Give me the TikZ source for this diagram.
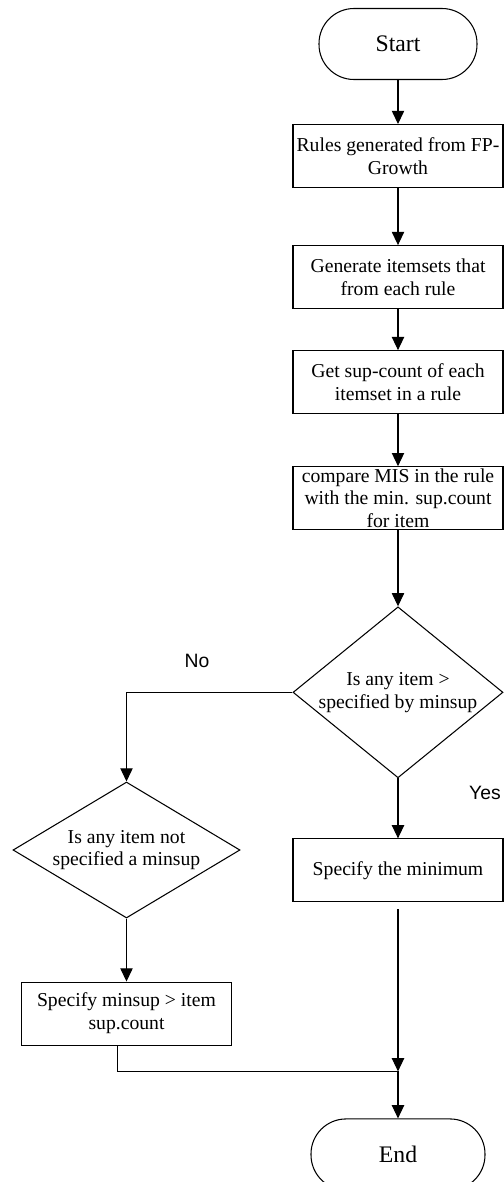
\documentclass[tikz,border=0pt]{standalone}
\usepackage{fontspec}
\setmainfont{Liberation Serif}
\setsansfont{Liberation Sans}
\usetikzlibrary{shapes.geometric, arrows.meta, positioning}

\begin{document}
\begin{tikzpicture}[
  node distance=1.0cm,
  box/.style={draw, minimum height=1.26cm, minimum width=4.2cm, align=center,
              inner sep=1pt, font=\fontsize{11.2}{13}\selectfont},
  term/.style={draw, rounded corners=0.7cm, minimum width=3.16cm,
               minimum height=1.42cm, font=\fontsize{13.5}{16}\selectfont},
  decision/.style={draw, diamond, inner sep=0pt},
  dectext/.style={align=center, font=\fontsize{11.2}{13}\selectfont},
  lbl/.style={font=\sffamily\fontsize{11}{13}\selectfont},
  arr/.style={-{Triangle[width=7pt,length=7.5pt]}},
  line width=0.6pt
]
  \useasboundingbox (0,0) rectangle (10.06,-23.64);

  % Main column
  \node[term] (start) at (7.96,-0.88) {Start};
  \node[box, below=0.88cm of start] (rules) {Rules generated from FP-\\Growth};
  \node[box, below=1.14cm of rules] (gen) {Generate itemsets that\\from each rule};
  \node[box, below=0.82cm of gen] (supcnt) {Get sup-count of each\\itemset in a rule};
  \node[box, below=1.04cm of supcnt] (compare) {compare MIS in the rule\\with the min. sup.count\\for item};

  % Decisions
  \node[decision, minimum width=4.2cm, minimum height=3.42cm, below=1.52cm of compare,
        label={[dectext]center:Is any item >\\specified by minsup}] (dec1) {};
  \node[box, below=1.2cm of dec1] (minimum) {Specify the minimum};
  \node[decision, minimum width=4.54cm, minimum height=2.72cm, at={(2.53,-17.0)},
        label={[dectext]center:Is any item not\\specified a minsup}] (dec2) {};
  \node[box, below=1.26cm of dec2] (minsup) {Specify minsup > item\\sup.count};

  % End
  \coordinate[below=3.38cm of minimum] (merge);
  \node[term, minimum width=3.48cm, below=4.32cm of minimum] (end) {End};

  % Labels
  \node[lbl] (no) at (3.94,-13.22) {No};
  \node[lbl] (yes) at (9.7,-15.86) {Yes};

  % Arrows
  \draw[arr] (start) -- (rules);
  \draw[arr] (rules) -- (gen);
  \draw[arr] (gen) -- (supcnt);
  \draw[arr] (supcnt) -- (compare);
  \draw[arr] (compare) -- (dec1);
  \draw[arr] (dec1.west) -| (dec2.north);
  \draw[arr] (dec1) -- (minimum);
  \draw[arr] (dec2) -- (minsup);
  \draw[arr, shorten <=0.14cm] (minimum) -- (merge);
  \draw ([xshift=-0.18cm]minsup.south) |- (merge);
  \draw[arr] (merge) -- (end);

\end{tikzpicture}
\end{document}
